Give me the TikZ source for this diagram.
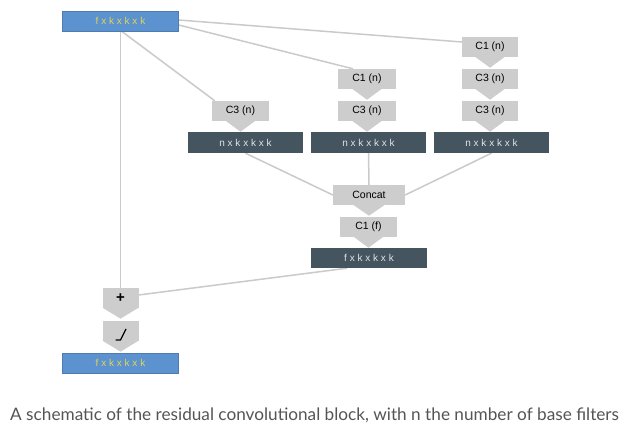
\documentclass[tikz,border=0pt]{standalone}
\usepackage{fontspec}
\setmainfont{Liberation Sans}
\newfontfamily\capfont{Lato}
\newfontfamily\spacedfont[LetterSpace=28]{Liberation Sans}
\usetikzlibrary{backgrounds}
\definecolor{boxblue}{RGB}{92,146,207}
\definecolor{boxyellow}{RGB}{228,212,80}
\definecolor{boxdark}{RGB}{69,85,95}
\definecolor{darktext}{RGB}{222,228,232}
\definecolor{pgray}{RGB}{205,205,205}
\definecolor{lgray}{RGB}{202,202,202}
\definecolor{captext}{RGB}{85,85,85}
\pgfdeclarelayer{bottomlayer}
\pgfsetlayers{bottomlayer,background,main}
\newcommand{\tri}[2]{\fill[pgray] ([xshift=-#2pt,yshift=0.5pt]#1.south) -- ([xshift=#2pt,yshift=0.5pt]#1.south) -- ([yshift=-10.5pt]#1.south) -- cycle;}
\tikzset{
  bluebox/.style={fill=boxblue, draw=boxblue!85!black, line width=0.4pt, minimum width=116pt, minimum height=20pt, inner sep=0pt, font=\spacedfont\fontsize{10}{11}\selectfont, text=boxyellow},
  darkbox/.style={fill=boxdark, minimum width=115pt, minimum height=21pt, inner sep=0pt, font=\spacedfont\fontsize{10}{11}\selectfont, text=darktext},
  pent/.style={fill=pgray, minimum width=57pt, minimum height=20pt, inner sep=0pt, font=\fontsize{10.5}{11}\selectfont, text=black},
  conn/.style={draw=lgray, line width=1.5pt}
}
\begin{document}
\begin{tikzpicture}[x=1pt,y=-1pt]
\begin{pgfonlayer}{bottomlayer}
\fill[white] (0,0) rectangle (621,435);
\end{pgfonlayer}
\useasboundingbox (0,0) rectangle (621,435);

\node[bluebox] (topblue) at (120.5,21) {fxkxkxk};
\node[pent, minimum width=56pt] (rc1) at (490,47) {C1 (n)};
\node[pent, minimum width=56pt] (rc3a) at (490,79) {C3 (n)};
\node[pent, minimum width=56pt] (rc3b) at (490,111) {C3 (n)};
\node[pent, minimum width=58pt] (mc1) at (367,79) {C1 (n)};
\node[pent, minimum width=58pt] (mc3) at (367,111) {C3 (n)};
\node[pent] (lc3) at (240.5,111) {C3 (n)};
\node[darkbox] (ld) at (245.5,142.5) {nxkxkxk};
\node[darkbox] (md) at (368.5,142.5) {nxkxkxk};
\node[darkbox] (rd) at (491.5,142.5) {nxkxkxk};
\node[pent, minimum width=72pt] (concat) at (369,195) {Concat};
\node[pent] (cf) at (368.5,227) {C1 (f)};
\node[darkbox, minimum width=116pt, minimum height=20pt] (fd) at (369,258) {fxkxkxk};
\node[pent, minimum width=36pt, font=\bfseries\fontsize{15}{15}\selectfont] (plus) at (120.5,298) {+};
\node[pent, minimum width=36pt] (relu) at (120.5,331) {};
\node[bluebox] (botblue) at (120.5,363) {fxkxkxk};

\tri{rc1}{15}
\tri{rc3a}{15}
\tri{rc3b}{15}
\tri{mc1}{15}
\tri{mc3}{15}
\tri{lc3}{15}
\tri{concat}{16}
\tri{cf}{15}
\tri{plus}{18}
\tri{relu}{18}

\draw[line width=1.2pt, black, line join=miter] ([xshift=-5pt,yshift=-9pt]relu.center) -- ([xshift=0pt,yshift=-9pt]relu.center) -- ([xshift=5.5pt,yshift=2pt]relu.center);

\begin{pgfonlayer}{background}
\draw[conn] (topblue.south) -- (plus.north);
\draw[conn] ([xshift=1pt]topblue.south) -- ([xshift=3pt]lc3.north west);
\draw[conn] ([yshift=1pt]topblue.east) -- ([yshift=5pt]rc1.west);
\draw[conn] ([yshift=-4pt]topblue.east) -- ([xshift=-14pt]mc1.north);
\draw[conn] (ld.south) -- (concat.west);
\draw[conn] (md.south) -- (concat.north);
\draw[conn] (rd.south) -- (concat.east);
\draw[conn] ([xshift=-22pt]fd.south) -- ([yshift=3pt]plus.east);
\end{pgfonlayer}

\node[anchor=base west, inner sep=0pt, text=captext, font=\capfont\fontsize{17.2}{19}\selectfont] (caption) at (10,420) {A schematic of the residual convolutional block, with n the number of base filters};
\end{tikzpicture}
\end{document}
